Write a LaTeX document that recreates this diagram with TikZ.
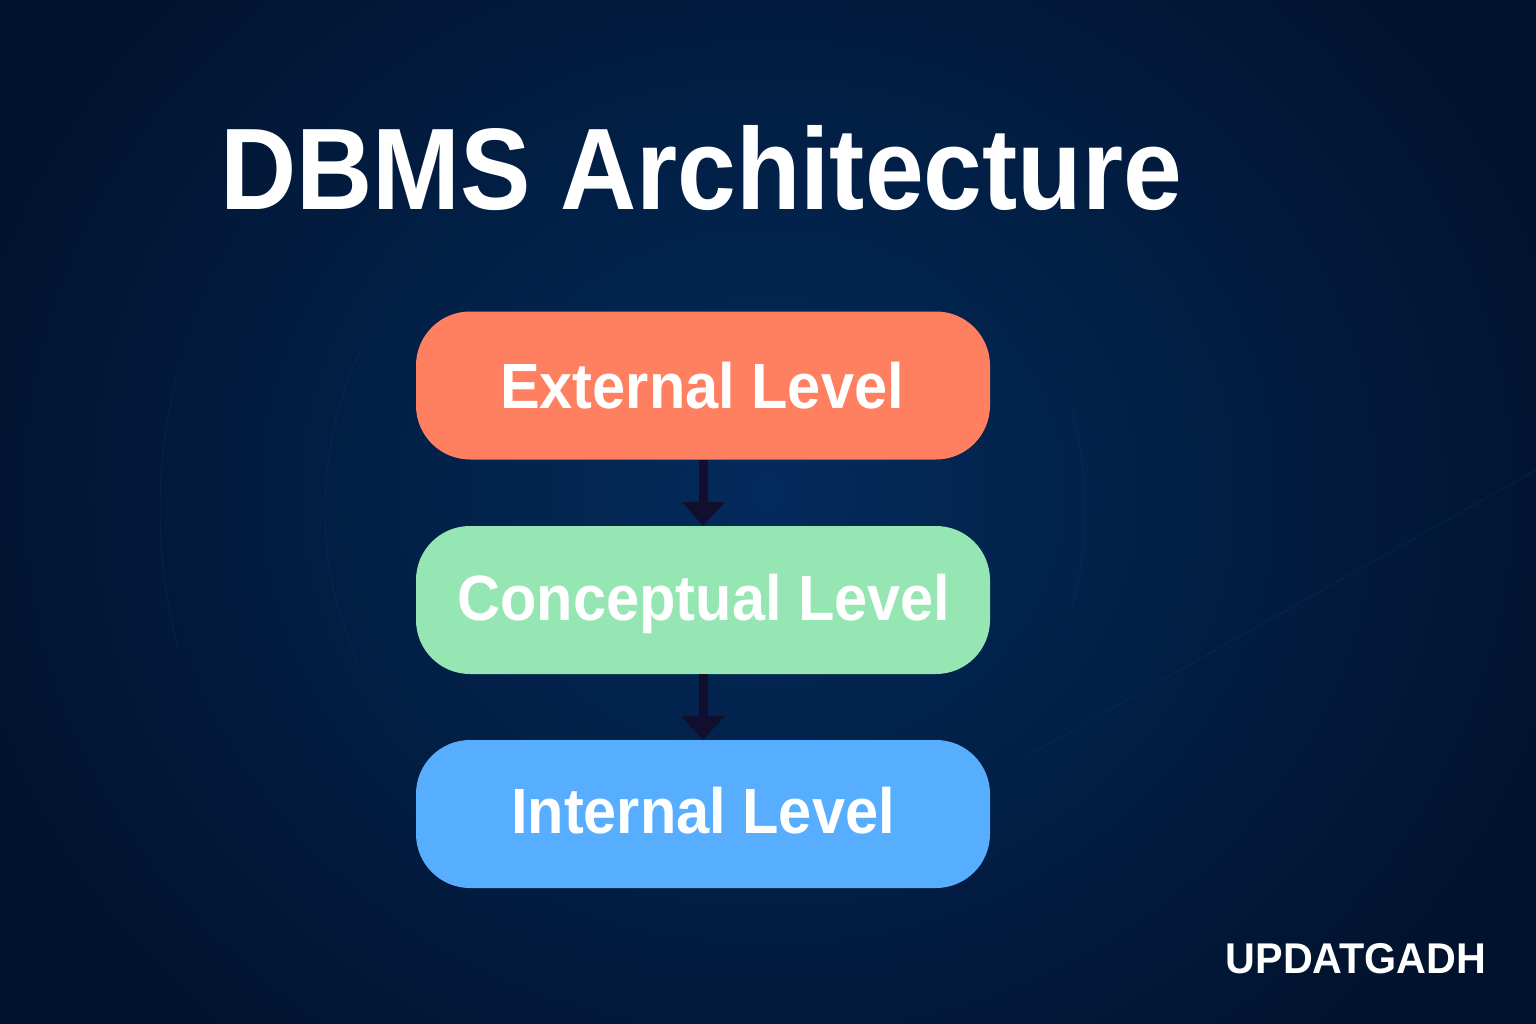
\documentclass[tikz,border=0pt]{standalone}
\usepackage{fontspec}
\setmainfont{Liberation Sans}
\newfontfamily\titlefont[FakeStretch=0.91]{Liberation Sans}
\newfontfamily\levelfont[FakeStretch=0.93]{Liberation Sans}
\newfontfamily\brandfont[FakeStretch=0.96]{Liberation Sans}
\usetikzlibrary{calc}
\definecolor{bgedge}{HTML}{01122C}
\definecolor{bgmid}{HTML}{032B5C}
\definecolor{arcc}{HTML}{0A3A70}
\definecolor{extc}{HTML}{FF7F61}
\definecolor{conc}{HTML}{96E6B3}
\definecolor{intc}{HTML}{57AEFF}
\definecolor{arrc}{HTML}{120F2E}
\tikzset{
 x=1pt,y=-1pt,
 level/.style={draw=none,rounded corners=54pt,minimum width=574pt,minimum height=148pt,inner sep=0pt},
 lab/.style={anchor=base,inner sep=0pt,text=white,font=\levelfont\fontsize{64pt}{70pt}\selectfont\bfseries},
 link/.style={draw=arrc,line width=9pt},
 tip/.style={fill=arrc,draw=none},
 faint/.style={draw=arcc,line width=1pt,opacity=.3}
}
\begin{document}
\begin{tikzpicture}
\useasboundingbox (0,0) rectangle (1536,1024);
\shade[inner color=bgmid,outer color=bgedge,shading=radial] (-100,-280) rectangle (1636,1264);
\begin{scope}
\clip (0,0) rectangle (1536,1024);
\draw[faint] (325,510) arc[start angle=180,end angle=155,radius=375];
\draw[faint] (325,510) arc[start angle=180,end angle=205,radius=375];
\draw[faint] (160,510) arc[start angle=180,end angle=165,radius=540];
\draw[faint] (160,510) arc[start angle=180,end angle=195,radius=540];
\draw[faint] (1085,510) arc[start angle=0,end angle=15,radius=385];
\draw[faint] (1085,510) arc[start angle=0,end angle=-15,radius=385];
\draw[faint] (1020,760) -- (1536,470);
\end{scope}
\node[text=white,inner sep=0pt,anchor=base,font=\titlefont\fontsize{116pt}{120pt}\selectfont\bfseries] (title) at (701,210) {DBMS Architecture};
\node[level,fill=extc] (ext) at (703,385.5) {};
\node[level,fill=conc] (con) at (703,600) {};
\node[level,fill=intc] (int) at (703,814) {};
\node[lab] (extlab) at (702,408) {External Level};
\node[lab] (conlab) at (704,620) {Conceptual Level};
\node[lab] (intlab) at (703,833) {Internal Level};
\node[text=white,inner sep=0pt,anchor=base,font=\brandfont\fontsize{43pt}{50pt}\selectfont\bfseries] (brand) at (1356,973) {UPDATGADH};
\coordinate (a1) at ($(ext.south)+(0,43)$);
\coordinate (a2) at ($(con.south)+(0,43)$);
\draw[link] (ext.south) -- (a1);
\fill[tip] (682,502) -- (725,502) -- (con.north) -- cycle;
\draw[link] (con.south) -- (a2);
\fill[tip] (681,716) -- (725,716) -- (int.north) -- cycle;
\end{tikzpicture}
\end{document}
